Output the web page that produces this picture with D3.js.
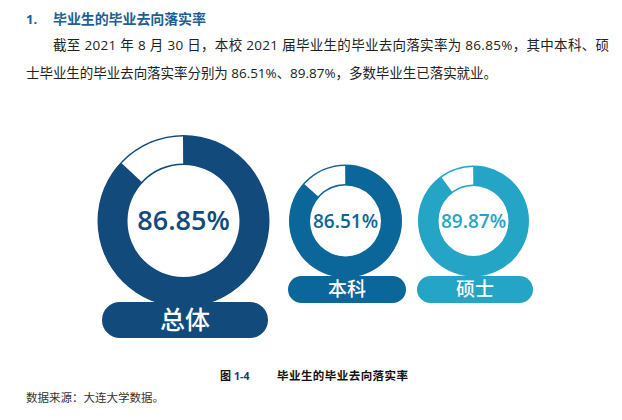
<!DOCTYPE html>
<html><head><meta charset="utf-8">
<script src="https://cdn.jsdelivr.net/npm/d3@7"></script>
<style>body{margin:0;background:#fff;} svg{display:block;}</style>
</head><body>
<script>
const categories = ['总体', '本科', '硕士'];
const rates = [86.85, 86.51, 89.87];
const labels = ['86.85%', '86.51%', '89.87%'];
const colors = ['#124a7c', '#0b6699', '#24a5c5'];

const W = 622, H = 420;
const svg = d3.select('body').append('svg').attr('width', W).attr('height', H);
const cjk = '"Noto Sans CJK SC", sans-serif';
const mixed = '"Open Sans", "Noto Sans CJK SC", sans-serif';

// header
svg.append('text').attr('x', 26).attr('y', 24).attr('font-family', mixed).attr('font-weight', 700)
  .attr('font-size', 13).attr('fill', '#1d5f95').text('1.');
svg.append('text').attr('x', 53).attr('y', 24).attr('font-family', cjk).attr('font-weight', 700)
  .attr('font-size', 14).attr('fill', '#1d5f95').attr('textLength', 153).attr('lengthAdjust', 'spacing')
  .text('毕业生的毕业去向落实率');
svg.append('text').attr('x', 53).attr('y', 50).attr('font-family', mixed).attr('font-size', 13.5)
  .attr('fill', '#222').attr('textLength', 556).attr('lengthAdjust', 'spacing')
  .text('截至 2021 年 8 月 30 日，本校 2021 届毕业生的毕业去向落实率为 86.85%，其中本科、硕');
svg.append('text').attr('x', 26).attr('y', 78).attr('font-family', mixed).attr('font-size', 13.5)
  .attr('fill', '#222').attr('textLength', 471).attr('lengthAdjust', 'spacing')
  .text('士毕业生的毕业去向落实率分别为 86.51%、89.87%，多数毕业生已落实就业。');

// scales
const xPos = d3.scaleOrdinal().domain(categories).range([183.5, 345.5, 473.5]);
const pillX = d3.scaleOrdinal().domain(categories).range([185, 347, 475]);
const outer = d3.scaleOrdinal().domain(categories).range([86, 56.5, 55.5]);
const inner = d3.scaleOrdinal().domain(categories).range([56, 35.5, 35]);
const pillW = d3.scaleOrdinal().domain(categories).range([166, 118, 116]);
const pillH = d3.scaleOrdinal().domain(categories).range([36, 27, 27]);
const pillY = d3.scaleOrdinal().domain(categories).range([302, 276, 276]);
const pctSize = d3.scaleOrdinal().domain(categories).range([27, 19, 19]);
const catSize = d3.scaleOrdinal().domain(categories).range([25, 19, 19]);
const angle = d3.scaleLinear().domain([0, 100]).range([0, 2 * Math.PI]);
const cy = 221;

categories.forEach((c, i) => {
  const g = svg.append('g').attr('transform', `translate(${xPos(c)},${cy})`);
  const ro = outer(c), ri = inner(c);
  g.append('path').attr('d', d3.arc().innerRadius(ri).outerRadius(ro).startAngle(0).endAngle(2 * Math.PI)())
    .attr('fill', colors[i]);
  // unplaced share: white, counter-clockwise from 12 o'clock, inset a little
  const gap = 100 - rates[i];
  g.append('path').attr('d', d3.arc().innerRadius(ri + 1.5).outerRadius(ro - 1.5)
      .startAngle(-angle(gap) + 0.006).endAngle(-0.006)())
    .attr('fill', '#fff');
  g.append('text').attr('x', 0).attr('y', 0).attr('dy', '0.35em').attr('text-anchor', 'middle')
    .attr('font-family', '"Open Sans", sans-serif').attr('font-weight', 600)
    .attr('font-size', pctSize(c)).attr('fill', colors[i]).text(labels[i]);

  const pw = pillW(c), ph = pillH(c), py = pillY(c), pcx = pillX(c);
  svg.append('rect').attr('x', pcx - pw / 2).attr('y', py).attr('width', pw).attr('height', ph)
    .attr('rx', ph / 2).attr('ry', ph / 2).attr('fill', colors[i]);
  svg.append('text').attr('x', pcx).attr('y', py + ph / 2).attr('dy', '0.36em').attr('text-anchor', 'middle')
    .attr('font-family', cjk).attr('font-weight', 500).attr('font-size', catSize(c)).attr('fill', '#fff').text(c);
});

// caption
svg.append('text').attr('x', 220).attr('y', 380).attr('font-family', cjk).attr('font-weight', 700)
  .attr('font-size', 11).attr('fill', '#111').text('图');
svg.append('text').attr('x', 234).attr('y', 380).attr('font-family', mixed).attr('font-weight', 700)
  .attr('font-size', 10.5).attr('fill', '#1a3a6a').text('1-4');
svg.append('text').attr('x', 277).attr('y', 380).attr('font-family', cjk).attr('font-weight', 700)
  .attr('font-size', 11.5).attr('fill', '#111').attr('textLength', 131).attr('lengthAdjust', 'spacing')
  .text('毕业生的毕业去向落实率');
svg.append('text').attr('x', 26).attr('y', 402).attr('font-family', cjk).attr('font-size', 11.5)
  .attr('fill', '#333').text('数据来源：大连大学数据。');
</script>
</body></html>
